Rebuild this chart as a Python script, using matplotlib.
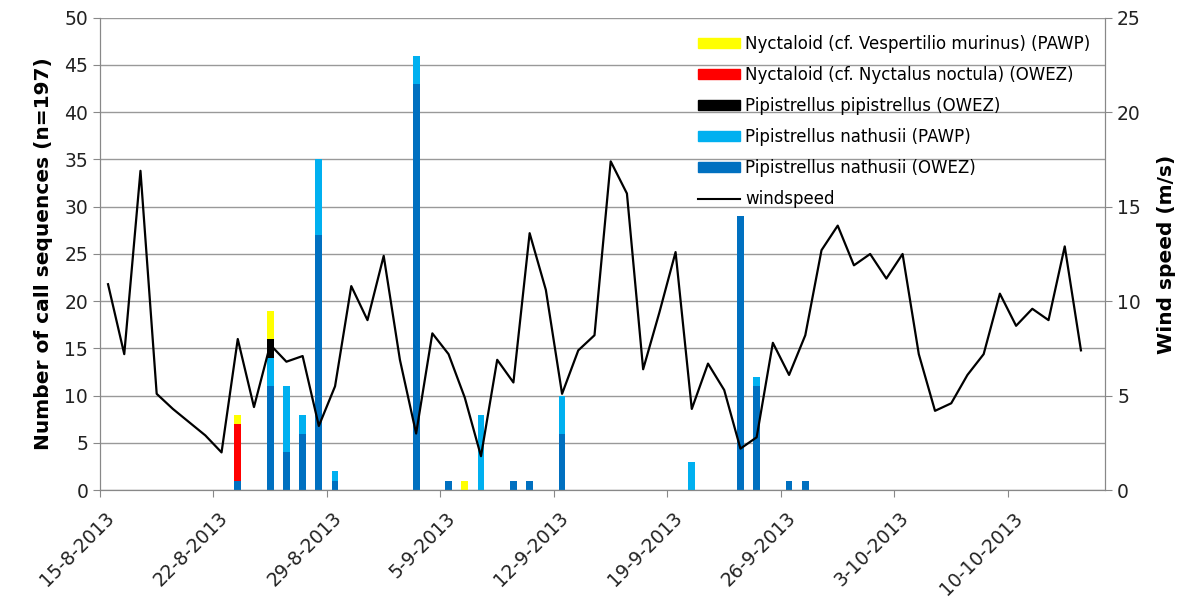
import numpy as np
import matplotlib
matplotlib.use("Agg")
import matplotlib.pyplot as plt
import matplotlib.transforms as mtransforms
from matplotlib.patches import Patch
from matplotlib.lines import Line2D

plt.rcParams["font.family"] = ["DejaVu Sans"]

# days counted from 15-8-2013
tick_days = [0, 7, 14, 21, 28, 35, 42, 49, 56]
tick_labels = ["15-8-2013", "22-8-2013", "29-8-2013", "5-9-2013", "12-9-2013",
               "19-9-2013", "26-9-2013", "3-10-2013", "10-10-2013"]

bar_days = [8, 10, 11, 12, 13, 14, 19, 21, 22, 23, 25, 26, 28, 36, 39, 40, 42, 43]
nath_owez = [1, 11, 4, 6, 27, 1, 43, 1, 0, 0, 1, 1, 6, 0, 29, 11, 1, 1]
nath_pawp = [0, 3, 7, 2, 8, 1, 3, 0, 0, 8, 0, 0, 4, 3, 0, 1, 0, 0]
pip_owez = [0, 2, 0, 0, 0, 0, 0, 0, 0, 0, 0, 0, 0, 0, 0, 0, 0, 0]
noct_owez = [6, 0, 0, 0, 0, 0, 0, 0, 0, 0, 0, 0, 0, 0, 0, 0, 0, 0]
vesp_pawp = [1, 3, 0, 0, 0, 0, 0, 0, 1, 0, 0, 0, 0, 0, 0, 0, 0, 0]

windspeed = [10.9, 7.2, 16.9, 5.1, 4.3, 3.6, 2.9, 2.0, 8.0, 4.4,
             7.7, 6.8, 7.1, 3.4, 5.5, 10.8, 9.0, 12.4, 6.9, 3.0,
             8.3, 7.2, 4.9, 1.8, 6.9, 5.7, 13.6, 10.6, 5.1, 7.4,
             8.2, 17.4, 15.7, 6.4, 9.4, 12.6, 4.3, 6.7, 5.3, 2.2,
             2.8, 7.8, 6.1, 8.2, 12.7, 14.0, 11.9, 12.5, 11.2, 12.5,
             7.2, 4.2, 4.6, 6.1, 7.2, 10.4, 8.7, 9.6, 9.0, 12.9, 7.4]

series = [
    (nath_owez, "#0070C0", "Pipistrellus nathusii (OWEZ)"),
    (nath_pawp, "#00B0F0", "Pipistrellus nathusii (PAWP)"),
    (pip_owez, "#000000", "Pipistrellus pipistrellus (OWEZ)"),
    (noct_owez, "#FF0000", "Nyctaloid (cf. Nyctalus noctula) (OWEZ)"),
    (vesp_pawp, "#FFFF00", "Nyctaloid (cf. Vespertilio murinus) (PAWP)"),
]

fig = plt.figure(figsize=(12.04, 6.12), dpi=100)
ax = fig.add_axes([0.083, 0.199, 0.835, 0.772])

x = np.array(bar_days) + 0.5
bottom = np.zeros(len(bar_days))
for vals, col, lab in series:
    ax.bar(x, vals, width=0.42, bottom=bottom, color=col, zorder=2)
    bottom += np.array(vals)

ax.set_xlim(0, 62)
ax.set_ylim(0, 50)
ax.set_yticks(range(0, 51, 5))
ax.grid(axis="y", color="#999999", linewidth=1, zorder=0)
ax.set_axisbelow(True)
ax.set_xticks(tick_days)
ax.set_xticklabels(tick_labels, rotation=45, ha="right", rotation_mode="anchor", fontsize=13.5)
ax.tick_params(axis="both", direction="out", color="#888888", length=5, labelsize=13.5,
               labelcolor="#222222")
ax.tick_params(axis="x", pad=6)
shift = mtransforms.ScaledTranslation(5 / 100, -3 / 100, fig.dpi_scale_trans)
for lbl in ax.get_xticklabels():
    lbl.set_transform(lbl.get_transform() + shift)
ax.set_ylabel("Number of call sequences (n=197)", fontsize=14.5, fontweight="bold", labelpad=8)
for s in ["left", "bottom", "right"]:
    ax.spines[s].set_color("#888888")
ax.spines["top"].set_visible(False)

ax2 = ax.twinx()
ax2.plot(np.arange(len(windspeed)) + 0.5, windspeed, color="black", linewidth=1.6)
ax2.set_ylim(0, 25)
ax2.set_yticks(range(0, 26, 5))
ax2.tick_params(axis="y", direction="out", color="#888888", length=5, labelsize=13.5,
                labelcolor="#222222")
ax2.set_ylabel("Wind speed (m/s)", fontsize=14.5, fontweight="bold", labelpad=12)
for s in ["left", "bottom", "right"]:
    ax2.spines[s].set_color("#888888")
ax2.spines["top"].set_visible(False)

handles = [Patch(color=col, label=lab) for vals, col, lab in series[::-1]]
handles.append(Line2D([0], [0], color="black", linewidth=1.5, label="windspeed"))
leg = ax2.legend(handles=handles, loc="upper right", bbox_to_anchor=(1.0, 0.995),
                 frameon=False, fontsize=12, handlelength=2.5, handleheight=0.5,
                 labelspacing=0.78, handletextpad=0.3)

fig.savefig("out.png", dpi=100)
